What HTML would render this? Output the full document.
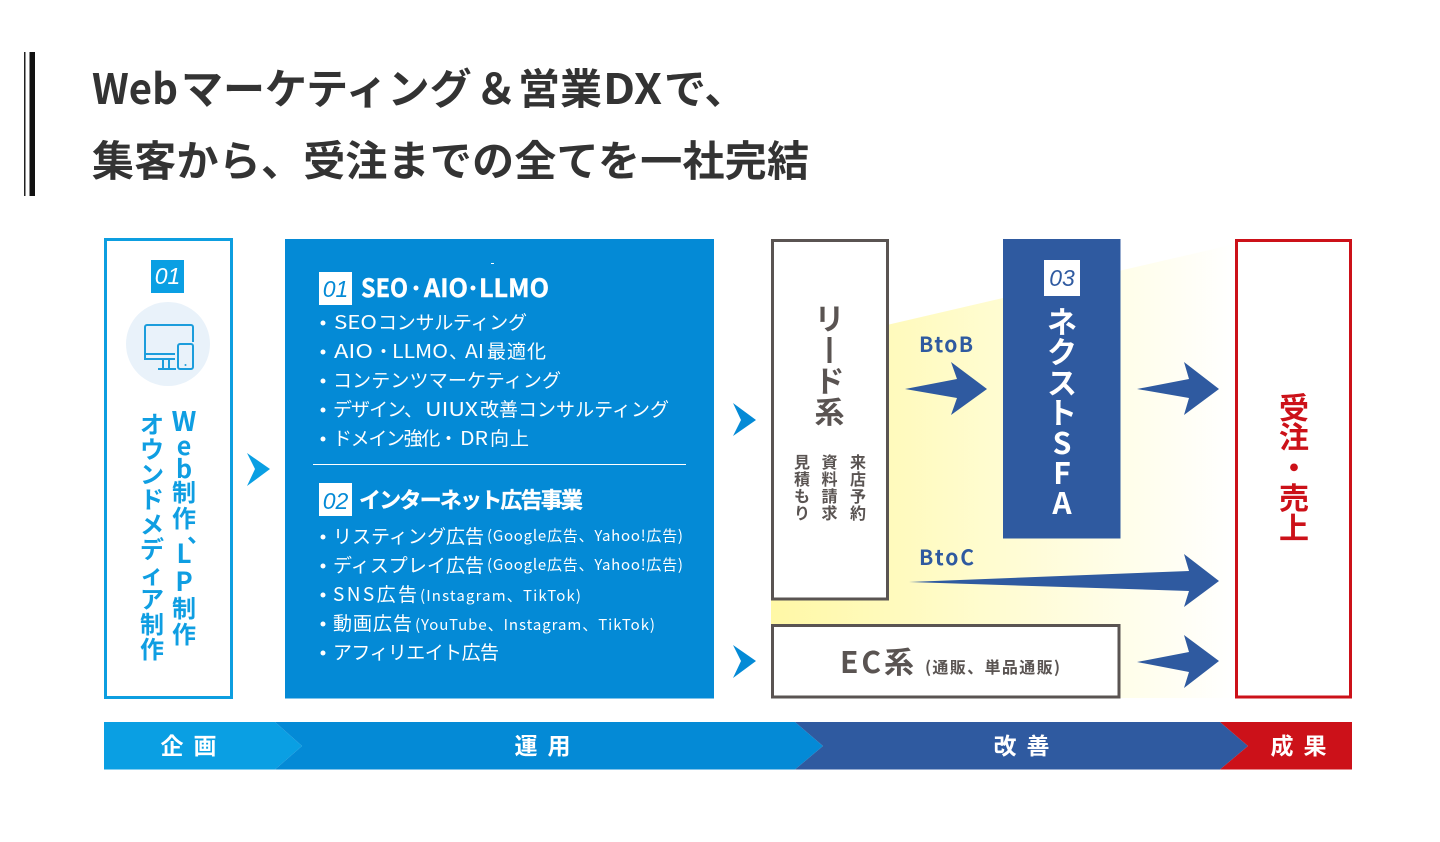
<!DOCTYPE html>
<html lang="ja"><head><meta charset="utf-8"><title>Webマーケティング＆営業DX</title>
<style>
html,body{margin:0;padding:0;background:#fff;width:1440px;height:842px;overflow:hidden}
svg{display:block}
text{font-family:"Liberation Sans","Noto Sans CJK JP",sans-serif}
.j{font-family:"Noto Sans CJK JP","Liberation Sans",sans-serif}
.t{font-size:42px;font-weight:700;fill:#333}
.w{fill:#fff}
.l{font-size:19px;font-weight:400;fill:#fff;font-family:"Noto Sans CJK JP",sans-serif}
.s{font-size:15px;font-weight:400;fill:#fff;font-family:"Noto Sans CJK JP",sans-serif}
.b{font-family:"Liberation Sans",sans-serif;font-style:italic;font-size:23px;text-anchor:middle}
.c{text-anchor:middle;font-family:"Noto Sans CJK JP",sans-serif}
</style></head><body>
<svg width="1440" height="842" viewBox="0 0 1440 842" xmlns="http://www.w3.org/2000/svg">
<defs><linearGradient id="g" gradientUnits="userSpaceOnUse" x1="771" y1="0" x2="1235" y2="0"><stop offset="0" stop-color="#fff8a6"/><stop offset="0.5" stop-color="#fffcd2"/><stop offset="1" stop-color="#ffffff"/></linearGradient></defs>
<rect width="1440" height="842" fill="#fff"/>
<rect x="24" y="52" width="1.5" height="144" fill="#222"/>
<rect x="29.5" y="52" width="5.5" height="144" fill="#111"/>
<text class="j t" x="92" y="104" textLength="86" lengthAdjust="spacingAndGlyphs">Web</text>
<text class="j t" x="181" y="104">マーケティング</text>
<text class="j t" x="475" y="104">＆</text>
<text class="j t" x="518" y="104">営業</text>
<text class="j t" x="603" y="104" textLength="59" lengthAdjust="spacingAndGlyphs">DX</text>
<text class="j t" x="664" y="104">で、</text>
<text class="j t" x="92" y="176" textLength="717" lengthAdjust="spacing">集客から、受注までの全てを一社完結</text>

<!-- left card -->
<rect x="105.5" y="239.5" width="126" height="458" fill="#fff" stroke="#0d9ee0" stroke-width="3"/>
<rect x="151" y="260" width="33" height="33" fill="#0a9fe3"/>
<text class="b w" x="167.500" y="284">01</text>
<circle cx="168" cy="344" r="42" fill="#e9f2fa"/>
<g fill="none" stroke="#1c9ddc" stroke-width="2">
<path d="M175 359H145V327a2 2 0 0 1 2-2H191a2 2 0 0 1 2 2V342"/>
<path d="M145 354H175"/><path d="M163 359V368M169 359V368M158 369H176"/>
<rect x="178" y="344" width="15" height="25" rx="2"/></g>
<circle cx="185.500" cy="365" r="1" fill="#1c9ddc"/>
<g fill="#0f9ee2">
<text class="c" x="184" y="431" font-size="27" font-weight="700">W</text>
<text class="c" x="184 184" y="455 478" font-size="25" font-weight="700">eb</text>
<text class="c" x="184 184" y="501 527" font-size="24" font-weight="700">制作</text>
<text class="c" x="199" y="542" font-size="24" font-weight="700">、</text>
<text class="c" x="184 184" y="563 591" font-size="26" font-weight="700">LP</text>
<text class="c" x="184 184" y="617 643" font-size="24" font-weight="700">制作</text>
<text class="c" x="152 152 152 152 152 152 152 152 152 152" y="433 458 483 508 533 558 583 608 633 658" font-size="24" font-weight="700">オウンドメディア制作</text>
</g>
<polygon points="247,453 270,469 247,486 255,469" fill="#0a9fe3"/>

<!-- middle card -->
<rect x="285" y="239" width="429" height="459.500" fill="#048ad6"/>
<rect x="491" y="263" width="3" height="1" fill="#fff"/>
<rect x="319" y="272" width="33" height="33" fill="#fff"/>
<text class="b" x="335.500" y="297" fill="#048ad6">01</text>
<text class="j w" x="361" y="297" textLength="47" lengthAdjust="spacingAndGlyphs" font-size="25" font-weight="700" stroke="#fff" stroke-width=".4">SEO</text>
<text class="j w" x="424" y="297" textLength="44" lengthAdjust="spacingAndGlyphs" font-size="25" font-weight="700" stroke="#fff" stroke-width=".4">AIO</text>
<text class="j w" x="479" y="297" textLength="70" lengthAdjust="spacingAndGlyphs" font-size="25" font-weight="700" stroke="#fff" stroke-width=".4">LLMO</text>
<circle cx="416" cy="288" r="2.500" fill="#fff"/><circle cx="473" cy="288" r="2.500" fill="#fff"/>
<g fill="#fff"><circle cx="323" cy="323" r="2.500"/><circle cx="323" cy="352" r="2.500"/><circle cx="323" cy="381" r="2.500"/><circle cx="323" cy="410" r="2.500"/><circle cx="323" cy="439" r="2.500"/>
<circle cx="323" cy="537" r="2.500"/><circle cx="323" cy="566" r="2.500"/><circle cx="323" cy="595" r="2.500"/><circle cx="323" cy="624" r="2.500"/><circle cx="323" cy="653" r="2.500"/></g>
<text class="l" x="334" y="329" textLength="43" lengthAdjust="spacingAndGlyphs">SEO</text>
<text class="l" x="378" y="329" textLength="149" lengthAdjust="spacing">コンサルティング</text>
<text class="l" x="334" y="358" textLength="39" lengthAdjust="spacingAndGlyphs">AIO</text>
<text class="l" x="374" y="358">・</text>
<text class="l" x="392" y="358" textLength="56" lengthAdjust="spacingAndGlyphs">LLMO</text>
<text class="l" x="449" y="358">、</text>
<text class="l" x="465" y="358" textLength="19" lengthAdjust="spacingAndGlyphs">AI</text>
<text class="l" x="487" y="358" textLength="59" lengthAdjust="spacing">最適化</text>
<text class="l" x="333" y="387" textLength="228" lengthAdjust="spacing">コンテンツマーケティング</text>
<text class="l" x="333" y="416" textLength="90" lengthAdjust="spacing">デザイン、</text>
<text class="l" x="425" y="416" textLength="53" lengthAdjust="spacingAndGlyphs">UIUX</text>
<text class="l" x="480" y="416" textLength="189" lengthAdjust="spacing">改善コンサルティング</text>
<text class="l" x="333" y="445" textLength="125" lengthAdjust="spacing">ドメイン強化・</text>
<text class="l" x="460" y="445" textLength="28" lengthAdjust="spacingAndGlyphs">DR</text>
<text class="l" x="490" y="445" textLength="39" lengthAdjust="spacing">向上</text>
<rect x="313" y="464" width="373" height="1" fill="#fff"/>
<rect x="319" y="483" width="33" height="33" fill="#fff"/>
<text class="b" x="335.500" y="509" fill="#048ad6">02</text>
<text class="j w" x="359" y="508" font-size="22" font-weight="700" textLength="224" lengthAdjust="spacing" stroke="#fff" stroke-width=".3">インターネット広告事業</text>
<text class="l" x="333" y="543" textLength="151" lengthAdjust="spacing">リスティング広告</text>
<text class="s" x="487" y="541" textLength="196" lengthAdjust="spacing">(Google広告、Yahoo!広告)</text>
<text class="l" x="333" y="572" textLength="151" lengthAdjust="spacing">ディスプレイ広告</text>
<text class="s" x="487" y="570" textLength="196" lengthAdjust="spacing">(Google広告、Yahoo!広告)</text>
<text class="l" x="333" y="601" textLength="84" lengthAdjust="spacing">SNS広告</text>
<text class="s" x="420" y="601" textLength="161" lengthAdjust="spacing">(Instagram、TikTok)</text>
<text class="l" x="333" y="630" textLength="79" lengthAdjust="spacing">動画広告</text>
<text class="s" x="415" y="630" textLength="240" lengthAdjust="spacing">(YouTube、Instagram、TikTok)</text>
<text class="l" x="333" y="659" textLength="166" lengthAdjust="spacing">アフィリエイト広告</text>
<polygon points="733,403 756,420 733,436 741,420" fill="#048ad6"/>
<polygon points="733,645 756,661 733,678 741,661" fill="#048ad6"/>

<!-- yellow band -->
<polygon points="771,352 1235,244 1235,698 771,698" fill="url(#g)"/>

<!-- lead -->
<rect x="772.500" y="240.500" width="115" height="358.500" fill="#fff" stroke="#5a5452" stroke-width="3"/>
<g fill="#5a5452">
<text class="c" x="829.500" y="330" font-size="30" font-weight="700">リ</text>
<rect x="827.500" y="337" width="4" height="26"/>
<text class="c" x="829.500" y="392" font-size="30" font-weight="700">ド</text>
<text class="c" x="829.500" y="423" font-size="30" font-weight="700">系</text>
<text class="c" x="858 858 858 858" y="468 485 502 519" font-size="16" font-weight="700">来店予約</text>
<text class="c" x="829.500 829.500 829.500 829.500" y="468 485 502 519" font-size="16" font-weight="700">資料請求</text>
<text class="c" x="802 802 802 802" y="468 485 502 519" font-size="16" font-weight="700">見積もり</text>
</g>

<!-- SFA -->
<rect x="1003" y="239" width="117.500" height="299.500" fill="#2f5aa0"/>
<rect x="1044" y="260" width="36" height="36" fill="#fff"/>
<text class="b" x="1062" y="286" fill="#2f5aa0">03</text>
<text class="c w" x="1062 1062 1062 1062 1062 1062 1062" y="333 363 394 424 454 484 514" font-size="30" font-weight="700">ネクストSFA</text>

<g fill="#2f5aa0">
<text class="j" x="919" y="352" font-size="21" font-weight="700" textLength="54" lengthAdjust="spacing">BtoB</text>
<text class="j" x="919" y="565" font-size="21" font-weight="700" textLength="55" lengthAdjust="spacing">BtoC</text>
<polygon points="905,389 957,379 951,362 987,389 951,415 957,398"/>
<polygon points="1137,389 1189,379 1184,362 1219,389 1184,415 1189,398"/>
<polygon points="909,582 1189,571 1184,554 1219,581 1184,607 1189,591"/>
<polygon points="1137,662 1189,652 1184,635 1219,661 1184,688 1189,672"/>
</g>

<!-- EC -->
<rect x="772.500" y="625.500" width="346.500" height="71.500" fill="#fff" stroke="#5a5452" stroke-width="3"/>
<text class="j" x="840" y="673" font-size="30" font-weight="700" fill="#5a5452" textLength="74" lengthAdjust="spacing">EC系</text>
<text class="j" x="925" y="673" font-size="16" font-weight="700" fill="#5a5452" textLength="135" lengthAdjust="spacing">(通販、単品通販)</text>

<!-- red -->
<rect x="1236.500" y="240.500" width="114" height="456.500" fill="#fff" stroke="#cc1119" stroke-width="3"/>
<text class="c" x="1294 1294 1294 1294 1294" y="419 448 479 509 539" font-size="30" font-weight="700" fill="#cc1119">受注・売上</text>

<!-- bottom -->
<polygon points="104,722 275,722 302,746 275,769.500 104,769.500" fill="#0a9fe3"/>
<polygon points="275,722 795,722 823,746 795,769.500 275,769.500 302,746" fill="#048ad6"/>
<polygon points="795,722 1220,722 1248,746 1220,769.500 795,769.500 823,746" fill="#2f5aa0"/>
<polygon points="1220,722 1352,722 1352,769.500 1220,769.500 1248,746" fill="#cc1119"/>
<text class="c w" x="172 205" y="754" font-size="23" font-weight="700">企画</text>
<text class="c w" x="526 559" y="754" font-size="23" font-weight="700">運用</text>
<text class="c w" x="1005 1038" y="754" font-size="23" font-weight="700">改善</text>
<text class="c w" x="1282 1315" y="754" font-size="23" font-weight="700">成果</text>
</svg>
</body></html>
